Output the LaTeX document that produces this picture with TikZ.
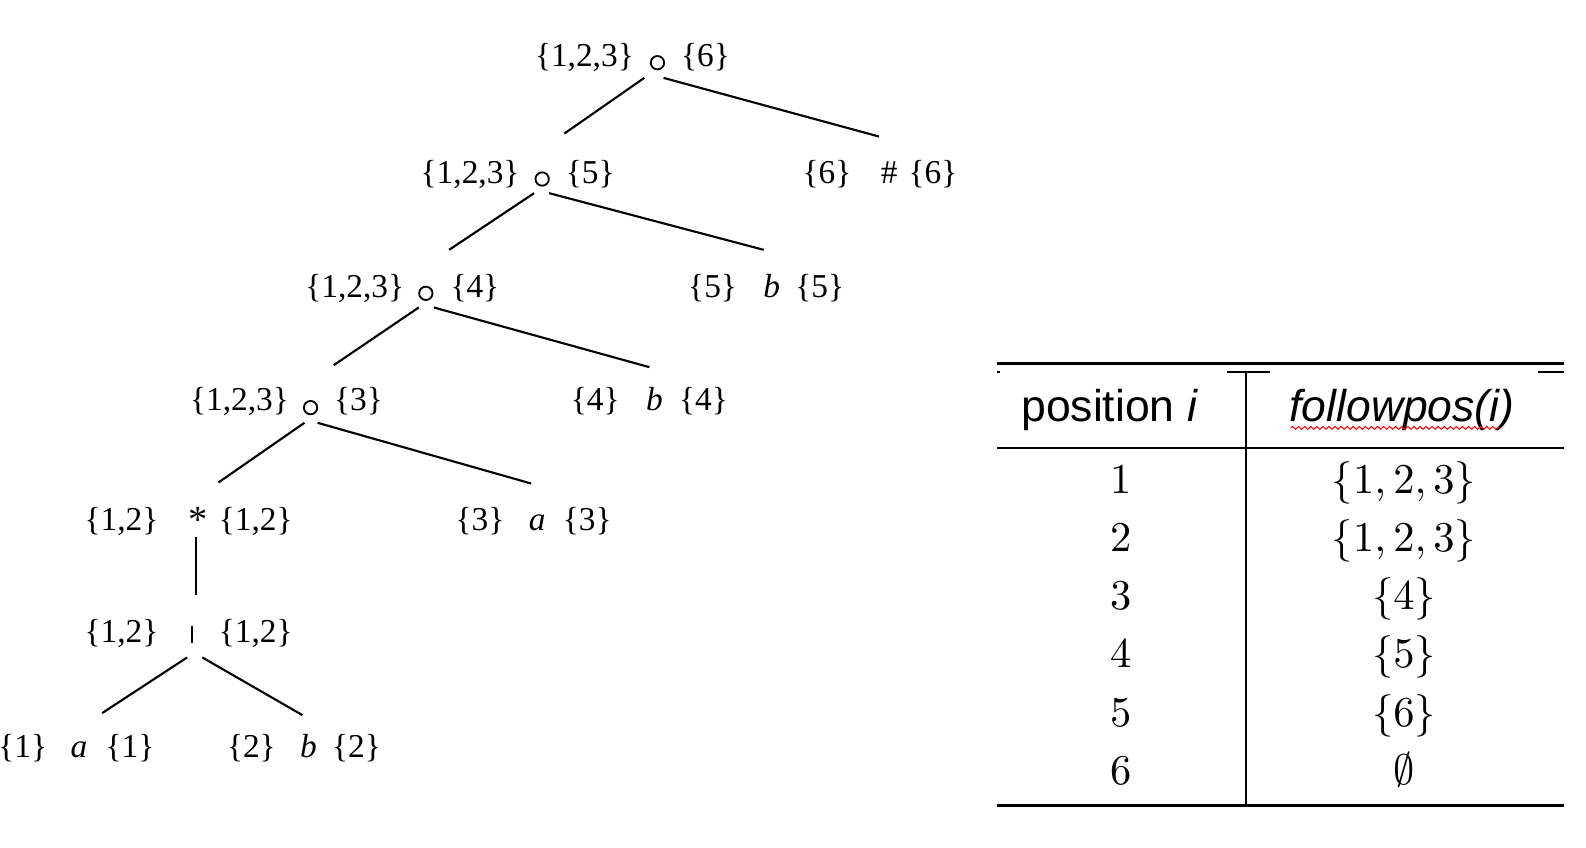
\documentclass[tikz,border=0pt]{standalone}
\usepackage{fontspec}
\setmainfont{Liberation Serif}
\newfontfamily\hdrfont{Liberation Sans}
\usetikzlibrary{decorations.pathmorphing}
\font\cmrt=cmr10 at 21pt
\font\cmsyt=cmsy10 at 21pt
\newcommand\myLB{{\cmsyt\char"66}}
\newcommand\myRB{{\cmsyt\char"67}}
\newcommand\myEmpty{{\cmsyt\char"3B}}
\tikzset{
  treefont/.style={font=\fontsize{16.5}{19}\selectfont},
  tx/.style={treefont, inner sep=0pt, anchor=base},
  txl/.style={treefont, inner sep=0pt, anchor=base east},
  txr/.style={treefont, inner sep=0pt, anchor=base west},
  opc/.style={circle, draw, line width=0.9pt, minimum size=6.6pt, inner sep=0pt},
  vbar/.style={inner sep=0pt, minimum width=1pt, minimum height=8pt},
  edge/.style={line width=1.05pt},
  hdr/.style={font=\hdrfont\fontsize{22}{26}\selectfont, inner sep=0pt, anchor=base},
  cell/.style={font=\cmrt, inner sep=0pt, anchor=base},
}
\begin{document}
\begin{tikzpicture}[x=0.5pt,y=-0.5pt]
\fill[white] (0,0) rectangle (1568,838);
\useasboundingbox (0,0) rectangle (1568,838);

% ---- tree ----
\node[opc] (r1) at (650,62) {};
\node[txl] (r1l) at (627,66) {\{1,2,3\}};
\node[txr] (r1r) at (673,66) {\{6\}};

\node[opc] (r2) at (536,177) {};
\node[txl] (r2l) at (514,181) {\{1,2,3\}};
\node[txr] (r2r) at (559,181) {\{5\}};

\node[tx] (l6) at (879,181) {\#};
\node[txl] (l6l) at (842,181) {\{6\}};
\node[txr] (l6r) at (898,181) {\{6\}};

\node[opc] (r3) at (421,290) {};
\node[txl] (r3l) at (400,294) {\{1,2,3\}};
\node[txr] (r3r) at (445,294) {\{4\}};

\node[tx] (l5) at (763,294) {\textit{b}};
\node[txl] (l5l) at (729,294) {\{5\}};
\node[txr] (l5r) at (786,294) {\{5\}};

\node[opc] (r4) at (307,403) {};
\node[txl] (r4l) at (286,406) {\{1,2,3\}};
\node[txr] (r4r) at (330,406) {\{3\}};

\node[tx] (l4) at (647,406) {\textit{b}};
\node[txl] (l4l) at (613,406) {\{4\}};
\node[txr] (l4r) at (671,406) {\{4\}};

\node[tx, font=\fontsize{19}{19}\selectfont] (st) at (196,526) {*};
\node[txl] (stl) at (157,524) {\{1,2\}};
\node[txr] (str) at (216,524) {\{1,2\}};

\node[tx] (l3) at (531,524) {\textit{a}};
\node[txl] (l3l) at (499,524) {\{3\}};
\node[txr] (l3r) at (556,524) {\{3\}};

\node[vbar] (bar) at (190,627) {};
\draw[line width=1.2pt] (bar.north) -- (bar.south);
\node[txl] (barl) at (157,635) {\{1,2\}};
\node[txr] (barr) at (216,635) {\{1,2\}};

\node[tx] (l1) at (78,749) {\textit{a}};
\node[txl] (l1l) at (47,749) {\{1\}};
\node[txr] (l1r) at (104,749) {\{1\}};

\node[tx] (l2) at (305,749) {\textit{b}};
\node[txl] (l2l) at (273,749) {\{2\}};
\node[txr] (l2r) at (328,749) {\{2\}};

\draw[edge] ([shift={(-13,15)}]r1.center) -- ([shift={(22,-45)}]r2.center);
\draw[edge] ([shift={(6,15)}]r1.center) -- ([shift={(-10,-46)}]l6.base);
\draw[edge] ([shift={(-8,14)}]r2.center) -- ([shift={(23,-43)}]r3.center);
\draw[edge] ([shift={(7,14)}]r2.center) -- ([shift={(-8,-47)}]l5.base);
\draw[edge] ([shift={(-7,14)}]r3.center) -- ([shift={(23,-42)}]r4.center);
\draw[edge] ([shift={(8,14)}]r3.center) -- ([shift={(-5,-43)}]l4.base);
\draw[edge] ([shift={(-6,15)}]r4.center) -- ([shift={(20,-49)}]st.base);
\draw[edge] ([shift={(7,15)}]r4.center) -- ([shift={(-6,-46)}]l3.base);
\draw[edge] ([shift={(-2,5)}]st.base) -- ([shift={(4,-39)}]bar.center);
\draw[edge] ([shift={(-5,23)}]bar.center) -- ([shift={(23,-44)}]l1.base);
\draw[edge] ([shift={(10,23)}]bar.center) -- ([shift={(-6,-42)}]l2.base);

% ---- table ----
\draw[line width=1.4pt] (986,359) -- (1546,359);
\draw[line width=1pt] (986,368) -- (989,368);
\draw[line width=1pt] (1213,368) -- (1256,368);
\draw[line width=1pt] (1521,368) -- (1546,368);
\draw[line width=1.3pt] (986,443) -- (1546,443);
\draw[line width=0.8pt] (1232,368) -- (1232,796);
\draw[line width=1.4pt] (986,796) -- (1546,796);

\node[hdr] (h1) at (1097,417) {position \textit{i}};
\node[hdr] (h2) at (1386,417) {\textit{followpos(i)}};
\draw[red, line width=0.5pt, decorate, decoration={snake, amplitude=0.7pt, segment length=3pt}] (1276,423) -- (1483,423);

\node[cell] (p1) at (1108,488) {1};
\node[cell] (f1) at (1388,488) {\myLB1,\,2,\,3\myRB};
\node[cell] (p2) at (1108,545) {2};
\node[cell] (f2) at (1388,545) {\myLB1,\,2,\,3\myRB};
\node[cell] (p3) at (1108,603) {3};
\node[cell] (f3) at (1388,603) {\myLB4\myRB};
\node[cell] (p4) at (1108,660) {4};
\node[cell] (f4) at (1388,660) {\myLB5\myRB};
\node[cell] (p5) at (1108,718) {5};
\node[cell] (f5) at (1388,718) {\myLB6\myRB};
\node[cell] (p6) at (1108,776) {6};
\node[cell] (f6) at (1388,776) {\myEmpty};
\end{tikzpicture}
\end{document}
